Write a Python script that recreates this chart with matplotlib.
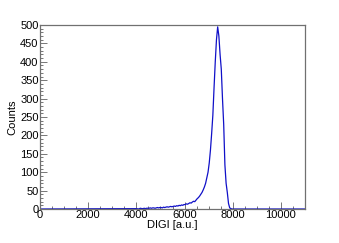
import numpy as np
import matplotlib
matplotlib.use('Agg')
import matplotlib.pyplot as plt
from matplotlib.ticker import MultipleLocator

# histogram bins (lower edges, width 50) and counts
bin_width = 50
bin_start = 4000
counts = [
    1, 0, 1, 2, 1, 1, 2, 1, 2, 2,            # 4000-4450
    2, 3, 2, 3, 3, 2, 3, 4, 3, 4,            # 4500-4950
    4, 3, 5, 4, 5, 6, 5, 6, 7, 6,            # 5000-5450
    7, 8, 7, 9, 8, 10, 9, 11, 10, 12,        # 5500-5950
    12, 14, 13, 15, 17, 16, 19, 21, 20, 24,  # 6000-6450
    28, 31, 35, 40, 45, 52, 60, 70, 85, 100, # 6500-6950
    125, 160, 205, 255, 330, 400, 460, 495, 470, 420,  # 7000-7450
    380, 300, 230, 120, 70, 45, 15, 3, 1, 0,  # 7500-7950
]

centres = bin_start + bin_width*(np.arange(len(counts)) + 0.5)
x = np.concatenate([[0], centres, [11000]])
y = np.concatenate([[0], counts, [0]])

plt.rcParams.update({
    'font.family': ['Liberation Sans', 'DejaVu Sans'],
    'font.size': 8,
})
fig = plt.figure(figsize=(3.39, 2.43), dpi=100)
ax = fig.add_axes([40/339, 34/243, 265/339, 184/243])

ax.plot(x, y, color='#1010c8', lw=0.9)

ax.set_xlim(0, 11000)
ax.set_ylim(0, 500)
ax.xaxis.set_major_locator(MultipleLocator(2000))
ax.xaxis.set_minor_locator(MultipleLocator(500))
ax.yaxis.set_major_locator(MultipleLocator(50))
ax.yaxis.set_minor_locator(MultipleLocator(10))
ax.tick_params(axis='both', which='major', direction='in', length=5, width=0.6,
               pad=1, labelsize=8, color='#606060')
ax.tick_params(axis='both', which='minor', direction='in', length=2.5, width=0.6,
               color='#606060')
ax.tick_params(top=False, right=False, which='both')
for s in ax.spines.values():
    s.set_color('#707070')
    s.set_linewidth(0.9)

ax.set_xlabel('DIGI [a.u.]', labelpad=0)
ax.set_ylabel('Counts', labelpad=2)

plt.savefig('out.png', dpi=100)
plt.close()
